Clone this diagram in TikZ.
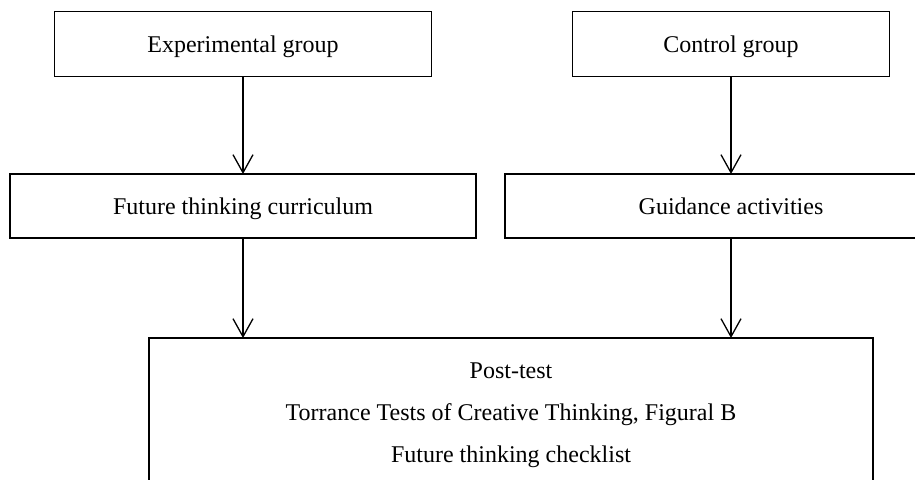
\documentclass[tikz,border=0pt]{standalone}
\usepackage{fontspec}
\setmainfont{Liberation Serif}
\usetikzlibrary{arrows.meta}
\begin{document}
\begin{tikzpicture}[x=0.5pt,y=-0.5pt,
  box/.style={draw, line width=0.65pt, rectangle, inner sep=0pt, outer sep=0pt, text height=10pt, text depth=1.5pt, font=\fontsize{12pt}{14pt}\selectfont},
  txt/.style={font=\fontsize{12pt}{14pt}\selectfont, anchor=base},
  arr/.style={draw, line width=0.65pt, -{Straight Barb[length=9pt,width=10pt,line width=0.65pt]}}]
\useasboundingbox (0,0) rectangle (915,479);
\clip (0,0) rectangle (915,479);
\node[box, minimum width=188.5pt, minimum height=32.5pt] (exp) at (243,44) {Experimental group};
\node[box, minimum width=158.5pt, minimum height=32.5pt] (con) at (731,44) {Control group};
\node[box, minimum width=233pt, minimum height=32pt] (fut) at (243,206) {Future thinking curriculum};
\node[box, minimum width=226pt, minimum height=32pt] (gui) at (731,206) {Guidance activities};
\node[box, minimum width=362pt, minimum height=90pt] (post) at (511,428) {};
\node[txt] (t1) at (511,378) {Post-test};
\node[txt] (t2) at (511,420) {Torrance Tests of Creative Thinking, Figural B};
\node[txt] (t3) at (511,462) {Future thinking checklist};
\draw[arr] (exp.south) -- (exp.south |- fut.north);
\draw[arr] (con.south) -- (con.south |- gui.north);
\draw[arr] (fut.south) -- (fut.south |- post.north);
\draw[arr] (gui.south) -- (gui.south |- post.north);
\end{tikzpicture}
\end{document}
